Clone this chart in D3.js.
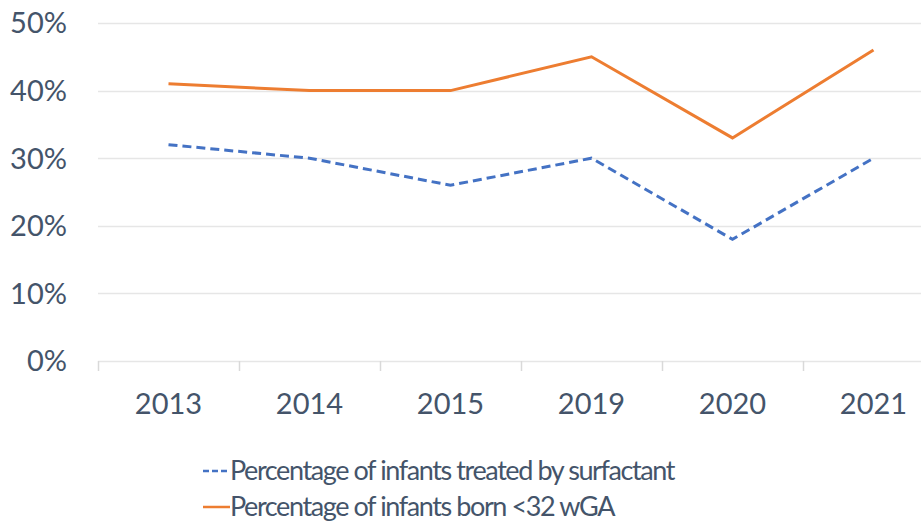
<!DOCTYPE html>
<html>
<head>
<meta charset="utf-8">
<script src="https://cdn.jsdelivr.net/npm/d3@7"></script>
<style>
  body { margin: 0; background: #fff; }
  svg { display: block; }
</style>
</head>
<body>
<div class="canvas"></div>
<script>
const years = ["2013", "2014", "2015", "2019", "2020", "2021"];
const surfactant = [32, 30, 26, 30, 18, 30];
const born32 = [41, 40, 40, 45, 33, 46];
const yTicks = [0, 10, 20, 30, 40, 50];
const legendLabels = [
  "Percentage of infants treated by surfactant",
  "Percentage of infants born <32 wGA",
];

const width = 921;
const height = 521;
const textColor = "#44546a";
const font = "Lato, 'Open Sans', sans-serif";

const svg = d3
  .select(".canvas")
  .append("svg")
  .attr("width", width)
  .attr("height", height);

// plot area runs a bit past the right edge, as in the source
const plotLeft = 98;
const plotRight = 944;
const plotTop = 23;
const plotBottom = 361;

const x = d3.scaleBand().domain(years).range([plotLeft, plotRight]);
const y = d3.scaleLinear().domain([0, 50]).range([plotBottom, plotTop]);

// gridlines
svg
  .append("g")
  .selectAll("line")
  .data(yTicks)
  .enter()
  .append("line")
  .attr("x1", plotLeft)
  .attr("x2", width)
  .attr("y1", (d) => Math.round(y(d)) + 0.5)
  .attr("y2", (d) => Math.round(y(d)) + 0.5)
  .attr("stroke", "#e6e6e6")
  .attr("stroke-width", 1.5);

// y labels
svg
  .append("g")
  .selectAll("text")
  .data(yTicks)
  .enter()
  .append("text")
  .attr("x", 67)
  .attr("y", (d) => y(d))
  .attr("dy", "0.36em")
  .attr("text-anchor", "end")
  .attr("fill", textColor)
  .style("font-family", font)
  .style("font-size", "29px")
  .text((d) => d + "%");

// x axis
const xAxis = d3.axisBottom(x).tickSize(0);

const gx = svg
  .append("g")
  .attr("transform", `translate(0,${Math.round(plotBottom) + 0.5})`)
  .call(xAxis);
gx.select(".domain").remove();
gx.selectAll("text")
  .attr("y", 52)
  .attr("dy", null)
  .attr("fill", textColor)
  .style("font-family", font)
  .style("font-size", "29px");

// tick marks at band edges
svg
  .append("g")
  .selectAll("line")
  .data(years)
  .enter()
  .append("line")
  .attr("x1", (d) => Math.round(x(d)) + 0.5)
  .attr("x2", (d) => Math.round(x(d)) + 0.5)
  .attr("y1", plotBottom)
  .attr("y2", plotBottom + 10)
  .attr("stroke", "#d9d9d9")
  .attr("stroke-width", 1.5);

const line = d3
  .line()
  .x((d, i) => x(years[i]) + x.bandwidth() / 2)
  .y((d) => y(d));

svg
  .append("path")
  .datum(born32)
  .attr("d", line)
  .attr("fill", "none")
  .attr("stroke", "#ed7d31")
  .attr("stroke-width", 3);

svg
  .append("path")
  .datum(surfactant)
  .attr("d", line)
  .attr("fill", "none")
  .attr("stroke", "#4472c4")
  .attr("stroke-width", 3)
  .attr("stroke-dasharray", "9,5");

// legend
const legend = svg
  .append("g")
  .selectAll("g")
  .data(legendLabels)
  .enter()
  .append("g")
  .attr("transform", (d, i) => `translate(203,${471 + i * 36})`);

legend
  .append("line")
  .attr("x1", 0)
  .attr("x2", 27)
  .attr("y1", 0)
  .attr("y2", 0)
  .attr("stroke", (d, i) => (i === 0 ? "#4472c4" : "#ed7d31"))
  .attr("stroke-width", 2.5)
  .attr("stroke-dasharray", (d, i) => (i === 0 ? "6,3" : null));

legend
  .append("text")
  .attr("x", 27)
  .attr("y", 9)
  .attr("fill", textColor)
  .style("font-family", font)
  .style("font-size", "27px")
  .style("letter-spacing", "-1.4px")
  .text((d) => d);
</script>
</body>
</html>
